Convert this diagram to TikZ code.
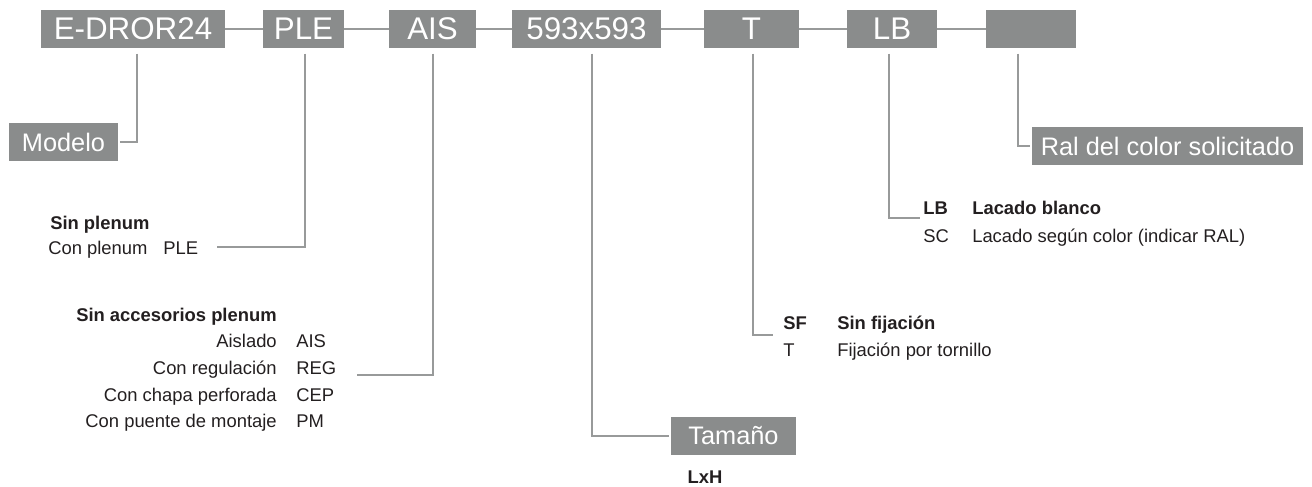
\documentclass[tikz,border=0pt]{standalone}
\usepackage{fontspec}
\setmainfont{Liberation Sans}
\definecolor{boxgray}{RGB}{138,140,140}
\definecolor{linegray}{RGB}{152,154,154}
\definecolor{txtdark}{RGB}{35,31,32}
\begin{document}
\begin{tikzpicture}[
      x=0.75pt, y=-0.75pt,
      code/.style={fill=boxgray, text=white, minimum height=28.5pt, inner sep=0pt,
                   font=\fontsize{23.5}{24}\selectfont},
      tag/.style={fill=boxgray, text=white, minimum height=28.5pt, inner sep=0pt,
                  outer sep=1.5pt, font=\fontsize{19}{20}\selectfont},
      link/.style={draw=linegray, line width=1.5pt},
      lbl/.style={inner sep=0pt, text=txtdark, font=\fontsize{13.8}{14}\selectfont},
      lblb/.style={inner sep=0pt, text=txtdark, font=\fontsize{13.8}{14}\selectfont\bfseries}
    ]
      \useasboundingbox (0,0) rectangle (1312,486);
      % code chain
      \foreach \nm/\cx/\w/\txt in {mod/133/138/E-DROR24, ple/303.5/60.75/PLE,
          ais/432.5/65.25/AIS, size/586.5/111.75/593x593, fix/751.5/71.25/T,
          lac/892/67.5/LB, ral/1031/67.5/{}} {
        \node[code, minimum width=\w pt] (\nm) at (\cx,29) {\txt};
      }
      \foreach \a/\b in {mod/ple, ple/ais, ais/size, size/fix, fix/lac, lac/ral} {
        \draw[link] (\a) -- (\b);
      }
      % labelled boxes
      \node[tag, minimum width=81.75pt] (modelo) at (63.5,142) {Modelo};
      \node[tag, minimum width=93.75pt] (tamano) at (733.5,436) {Tamaño};
      \node[tag, minimum width=203.25pt] (ralsol) at (1167.5,146) {Ral del color solicitado};
      % plenum
      \node[lblb, anchor=base west] (pleH) at (50,229) {Sin plenum};
      \node[lbl, anchor=base west] (pleT) at (48,254) {Con plenum};
      \node[lbl, anchor=base west] (pleC) at (163,254) {PLE};
      % accesorios
      \node[lblb, anchor=base west] (aisH) at (76,321) {Sin accesorios plenum};
      \foreach \t/\c [count=\k] in {Aislado/AIS, Con regulación/REG,
          Con chapa perforada/CEP, Con puente de montaje/PM} {
        \pgfmathsetmacro{\yy}{321+26.7*\k}
        \node[lbl, anchor=base east] (aisT\k) at (277,\yy) {\t};
        \node[lbl, anchor=base west] (aisC\k) at (296,\yy) {\c};
      }
      % size
      \node[lblb, anchor=base] (sizeT) at (705,483) {LxH};
      % fijacion
      \node[lblb, anchor=base west] (fixC1) at (783,329) {SF};
      \node[lblb, anchor=base west] (fixT1) at (837,329) {Sin fijación};
      \node[lbl, anchor=base west] (fixC2) at (783,356) {T};
      \node[lbl, anchor=base west] (fixT2) at (837,356) {Fijación por tornillo};
      % lacado
      \node[lblb, anchor=base west] (lacC1) at (923,214) {LB};
      \node[lblb, anchor=base west] (lacT1) at (972,214) {Lacado blanco};
      \node[lbl, anchor=base west] (lacC2) at (923,242) {SC};
      \node[lbl, anchor=base west] (lacT2) at (972,242) {Lacado según color (indicar RAL)};
      % leader ends
      \coordinate (pleEnd) at (217,247);
      \coordinate (aisEnd) at (357,375);
      \coordinate (fixEnd) at (773,335);
      \coordinate (lacEnd) at (920,218);
      % leaders
      \draw[link] ([xshift=3pt,yshift=-4pt]mod.south) |- (modelo.east);
      \draw[link] ([xshift=1pt,yshift=-4pt]ple.south) |- (pleEnd);
      \draw[link] ([xshift=0.4pt,yshift=-4pt]ais.south) |- (aisEnd);
      \draw[link] ([xshift=4pt,yshift=-4pt]size.south) |- (tamano.west);
      \draw[link] ([xshift=1pt,yshift=-4pt]fix.south) |- (fixEnd);
      \draw[link] ([xshift=-2.25pt,yshift=-4pt]lac.south) |- (lacEnd);
      \draw[link] ([xshift=-9.75pt,yshift=-4pt]ral.south) |- (ralsol.west);
    \end{tikzpicture}
\end{document}
